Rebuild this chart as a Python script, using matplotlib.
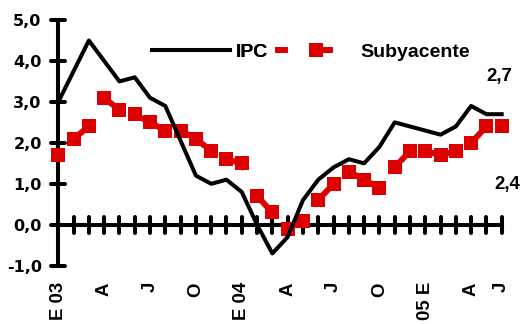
import numpy as np
import matplotlib
matplotlib.use("Agg")
import matplotlib.pyplot as plt
from matplotlib.lines import Line2D
from matplotlib.markers import MarkerStyle
from matplotlib.legend_handler import HandlerLine2D
from matplotlib.ticker import FixedLocator, FuncFormatter

# Monthly inflation, January 2003 - June 2005 (%)
ipc = [3.0, 3.75, 4.5, 4.0, 3.5, 3.6, 3.1, 2.9, 2.05, 1.2, 1.0, 1.1,
       0.8, 0.0, -0.7, -0.3, 0.6, 1.1, 1.4, 1.6, 1.5, 1.9, 2.5, 2.4,
       2.3, 2.2, 2.4, 2.9, 2.7, 2.7]
subyacente = [1.7, 2.1, 2.4, 3.1, 2.8, 2.7, 2.5, 2.3, 2.3, 2.1, 1.8, 1.6,
              1.5, 0.7, 0.3, -0.1, 0.1, 0.6, 1.0, 1.3, 1.1, 0.9, 1.4, 1.8,
              1.8, 1.7, 1.8, 2.0, 2.4, 2.4]
month_label_pos = [0, 3, 6, 9, 12, 15, 18, 21, 24, 27, 29]
month_labels = ["E 03", "A", "J", "O", "E 04", "A", "J", "O", "05 E", "A", "J"]
y_ticks = [-1, 0, 1, 2, 3, 4, 5]

RED = "#DD0000"
W, H = 523, 324
DASH = (4.10, 3.85)  # long dash, in units of line width


class MarkerOffsetHandler(HandlerLine2D):
    """Line handle whose single marker sits right of the handle centre."""

    def __init__(self, frac=0.71, **kw):
        super().__init__(**kw)
        self.frac = frac

    def create_artists(self, legend, orig_handle, xdescent, ydescent,
                       width, height, fontsize, trans):
        x0 = -xdescent
        xdata = [x0, x0 + self.frac * width, x0 + width]
        ydata = np.full(3, (height - ydescent) / 2)
        legline = Line2D(xdata, ydata)
        self.update_prop(legline, orig_handle, legend)
        legline.set_markevery([1])
        legline.set_transform(trans)
        return [legline]


fig = plt.figure(figsize=(W / 100, H / 100), dpi=100)
ax = fig.add_axes([58.3 / W, 58.3 / H, 443.4 / W, 245.7 / H])
x = np.arange(len(ipc))

ax.plot(x, subyacente, color=RED, lw=4.3, ls=(4.19, DASH),
        marker="s", ms=10.5, mfc=RED, mec=RED, mew=0,
        clip_on=False, zorder=3, label="Subyacente")
ax.plot(x, ipc, color="black", lw=2.9, clip_on=False, zorder=4, label="IPC")

ax.set_xlim(0, len(ipc) - 1)
ax.set_ylim(-1, 5)

for side in ("top", "right"):
    ax.spines[side].set_visible(False)
ax.spines["bottom"].set_position(("data", 0))
for side in ("left", "bottom"):
    ax.spines[side].set_linewidth(2.9)
    ax.spines[side].set_capstyle("round")

ax.xaxis.set_major_locator(FixedLocator(list(x)))
ax.yaxis.set_major_locator(FixedLocator(y_ticks))
ax.yaxis.set_major_formatter(FuncFormatter(lambda v, _: f"{v:.1f}".replace(".", ",")))
ax.tick_params(axis="y", direction="inout", length=10, width=2.9, pad=7)
ax.tick_params(axis="x", direction="inout", length=11.5, width=2.9, labelbottom=False)
for lab in ax.get_yticklabels():
    lab.set_fontfamily("DejaVu Sans")
    lab.set_fontweight("bold")
    lab.set_fontsize(11.5)

for t in ax.yaxis.get_major_ticks():
    t.tick1line.set_marker(MarkerStyle("_", capstyle="round"))
for t in ax.xaxis.get_major_ticks():
    t.tick1line.set_marker(MarkerStyle("|", capstyle="round"))

for pos, lab in zip(month_label_pos, month_labels):
    ax.text(pos, -1.40, lab, rotation=90, ha="center", va="top",
            fontfamily="Liberation Sans", fontweight="bold", fontsize=13.4,
            clip_on=False)


def fmt(v):
    return f"{v:.1f}".replace(".", ",")


# value labels at the last month
ax.annotate(fmt(ipc[-1]), xy=(x[-1], ipc[-1]), xytext=(-1.5, 27),
            textcoords="offset points", ha="center", va="center",
            fontfamily="Liberation Sans", fontweight="bold", fontsize=13.4)
ax.annotate(fmt(subyacente[-1]), xy=(x[-1], subyacente[-1]), xytext=(4, -42),
            textcoords="offset points", ha="center", va="center",
            fontfamily="Liberation Sans", fontweight="bold", fontsize=13.4)

legend_font = {"family": "Liberation Sans", "weight": "bold", "size": 14}
h_ipc = Line2D([], [], color="black", lw=2.9)
h_sub = Line2D([], [], color=RED, lw=4.3, ls=(1.93, DASH),
               marker="s", ms=10.5, mfc=RED, mec=RED, mew=0)
leg1 = fig.legend([h_ipc], ["IPC"], loc="center left",
                  bbox_to_anchor=(152 / W, 1 - 52 / H), frameon=False,
                  borderpad=0, borderaxespad=0, handlelength=4.0,
                  handletextpad=0.31, prop=legend_font)
fig.add_artist(leg1)
fig.legend([h_sub], ["Subyacente"], loc="center left",
           bbox_to_anchor=(275 / W, 1 - 52 / H), frameon=False,
           borderpad=0, borderaxespad=0, handlelength=2.98,
           handletextpad=1.39, prop=legend_font,
           handler_map={h_sub: MarkerOffsetHandler(frac=0.71)})

fig.savefig("out.png", dpi=100, facecolor="white")
